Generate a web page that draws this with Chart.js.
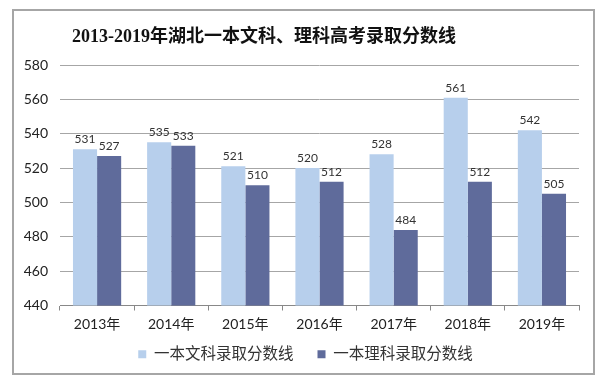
<!DOCTYPE html>
<html>
<head>
<meta charset="utf-8">
<script src="https://cdn.jsdelivr.net/npm/chart.js@4.4.1/dist/chart.umd.min.js"></script>
<style>
  body { margin: 0; background: #fff; }
  #box {
    position: absolute; left: 12px; top: 9px;
    width: 579px; height: 362px;
    border: 2px solid #a6a6a6;
  }
  canvas { display: block; }
</style>
</head>
<body>
<div id="box"><canvas id="scoreChart" width="579" height="362"></canvas></div>
<script>
// 2013-2019 湖北一本分数线
const years = ["2013年", "2014年", "2015年", "2016年", "2017年", "2018年", "2019年"];
const wenke = [531, 535, 521, 520, 528, 561, 542]; // 文科
const like = [527, 533, 510, 512, 484, 512, 505];  // 理科
const yTicks = [440, 460, 480, 500, 520, 540, 560, 580];

const chartTitle = "2013-2019年湖北一本文科、理科高考录取分数线";
const baseFont = "Lato, 'Noto Sans CJK SC', sans-serif";

// title is drawn a bit left of centre, like the Excel original
const titlePlugin = {
  id: "excelTitle",
  afterDraw(c) {
    const ctx = c.ctx;
    ctx.save();
    ctx.font = "bold 18px 'Liberation Serif', 'Noto Sans CJK SC', serif";
    ctx.fillStyle = "#111";
    ctx.textAlign = "center";
    ctx.textBaseline = "middle";
    ctx.fillText(chartTitle, 250, 26);
    ctx.restore();
  }
};

// value labels above each bar
const valueLabels = {
  id: "valueLabels",
  afterDatasetsDraw(c) {
    const ctx = c.ctx;
    ctx.save();
    ctx.font = "12px " + baseFont;
    ctx.fillStyle = "#333";
    ctx.textAlign = "center";
    ctx.textBaseline = "bottom";
    c.data.datasets.forEach((ds, i) => {
      c.getDatasetMeta(i).data.forEach((bar, j) => {
        ctx.fillText(ds.data[j], bar.x, bar.y - 4);
      });
    });
    ctx.restore();
  }
};

// x labels overlap the legend's empty top padding, so widen the x label clip
// and nudge the legend a little to the right
const layoutTweak = {
  id: "layoutTweak",
  afterLayout(c) {
    c.scales.x.bottom = c.height;
    c.legend.left += 9;
    c.legend.right += 9;
  }
};

new Chart(document.getElementById("scoreChart"), {
  type: "bar",
  data: {
    labels: years,
    datasets: [
      { label: "一本文科录取分数线", data: wenke, backgroundColor: "#b7cfec" },
      { label: "一本理科录取分数线", data: like, backgroundColor: "#5f6b9b" }
    ]
  },
  options: {
    responsive: false,
    animation: false,
    categoryPercentage: 0.65,
    barPercentage: 1,
    layout: { padding: { top: 54, right: 14, left: 0, bottom: 1 } },
    plugins: {
      title: { display: false },
      tooltip: { enabled: false },
      legend: {
        position: "bottom",
        labels: {
          boxWidth: 8, boxHeight: 8, padding: 24,
          color: "#333",
          font: { size: 15.5, family: baseFont }
        }
      }
    },
    scales: {
      x: {
        grid: { offset: true, drawOnChartArea: false, color: "#888", tickLength: 5 },
        border: { color: "#888" },
        ticks: { color: "#222", padding: 6, font: { size: 14, family: baseFont } },
        afterFit(s) { s.height = 17; }
      },
      y: {
        min: 440, max: 580,
        afterBuildTicks(s) { s.ticks = yTicks.map(v => ({ value: v })); },
        grid: { color: "#a6a6a6", drawTicks: false },
        border: { display: false },
        ticks: { color: "#222", padding: 12, font: { size: 14, family: baseFont } },
        afterFit(s) { s.width = 46; }
      }
    }
  },
  plugins: [titlePlugin, valueLabels, layoutTweak]
});
</script>
</body>
</html>
